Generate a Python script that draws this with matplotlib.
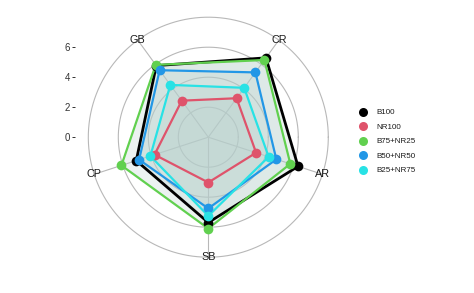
import numpy as np
import matplotlib
matplotlib.use("Agg")
import matplotlib.pyplot as plt
from matplotlib.lines import Line2D

plt.rcParams["font.family"] = ["Liberation Sans", "DejaVu Sans"]

# axes, clockwise from top (degrees)
categories = ["GB", "CR", "AR", "SB", "CP"]
cat_angles = [-36, 36, 108, 180, 252]

groups = ["B100", "NR100", "B75+NR25", "B50+NR50", "B25+NR75"]
colors = ["#000000", "#DF536B", "#61D04F", "#2297E6", "#28E2E5"]

b100 = [5.90, 6.54, 6.29, 5.69, 5.05]
nr100 = [3.01, 3.21, 3.35, 3.02, 3.77]
b75_nr25 = [5.96, 6.36, 5.75, 6.09, 6.09]
b50_nr50 = [5.52, 5.34, 4.77, 4.75, 4.85]
b25_nr75 = [4.31, 4.07, 4.23, 5.25, 4.06]
series = [b100, nr100, b75_nr25, b50_nr50, b25_nr75]

r_ticks = [0, 2, 4, 6]
r_outer = 8.0
PX = 15.0  # pixels per unit


def to_xy(values):
    th = np.deg2rad(cat_angles)
    v = np.asarray(values, dtype=float)
    return v * np.sin(th), v * np.cos(th)


fig = plt.figure(figsize=(4.74, 2.93), dpi=100)
half = 133 / PX
ax = fig.add_axes([75.3 / 474, 22.8 / 293, 266 / 474, 266 / 293])
ax.set_xlim(-half, half)
ax.set_ylim(-half, half)
ax.set_aspect("equal")

grid_col = "#B8B8B8"
t = np.linspace(0, 2 * np.pi, 300)
for r in [2, 4, 6, r_outer]:
    ax.plot(r * np.cos(t), r * np.sin(t), color=grid_col, lw=0.8, zorder=1)
for a in cat_angles:
    th = np.deg2rad(a)
    ax.plot([0, r_outer * np.sin(th)], [0, r_outer * np.cos(th)],
            color=grid_col, lw=0.8, zorder=1)

# fills
for vals in series:
    x, y = to_xy(vals)
    ax.fill(x, y, facecolor="#B6CFCB", alpha=0.25, lw=0, zorder=2)
# outlines
for vals, c in zip(series, colors):
    x, y = to_xy(vals)
    lw = 2.0 if c == "#000000" else 1.6
    ax.plot(np.r_[x, x[0]], np.r_[y, y[0]], color=c, lw=lw, zorder=3,
            solid_joinstyle="miter")
# points
for vals, c in zip(series, colors):
    x, y = to_xy(vals)
    ax.plot(x, y, "o", color=c, ms=7, mec="none", zorder=4)

# category labels, centred on the outer circle
for name, a in zip(categories, cat_angles):
    th = np.deg2rad(a)
    ax.text(r_outer * np.sin(th), r_outer * np.cos(th), name,
            ha="center", va="center", fontsize=7.8, color="#1A1A1A", zorder=5)

for s in ax.spines.values():
    s.set_visible(False)
ax.set_xticks([])
ax.set_yticks(r_ticks)
ax.set_yticklabels([str(v) for v in r_ticks])
ax.tick_params(axis="y", length=2.2, width=0.7, color="#333333",
               labelcolor="#333333", labelsize=7.0, pad=1.5)

handles = [Line2D([], [], ls="none", marker="o", ms=6.5, color=c, mec="none")
           for c in colors]
fig.legend(handles, groups, loc="upper left",
           bbox_to_anchor=(356 / 474, 1 - 105.6 / 293),
           frameon=False, fontsize=5.8, handlelength=1.0,
           handletextpad=1.15, labelspacing=0.85, borderaxespad=0,
           borderpad=0.4, labelcolor="#1A1A1A")

fig.savefig("out.png", dpi=100)
